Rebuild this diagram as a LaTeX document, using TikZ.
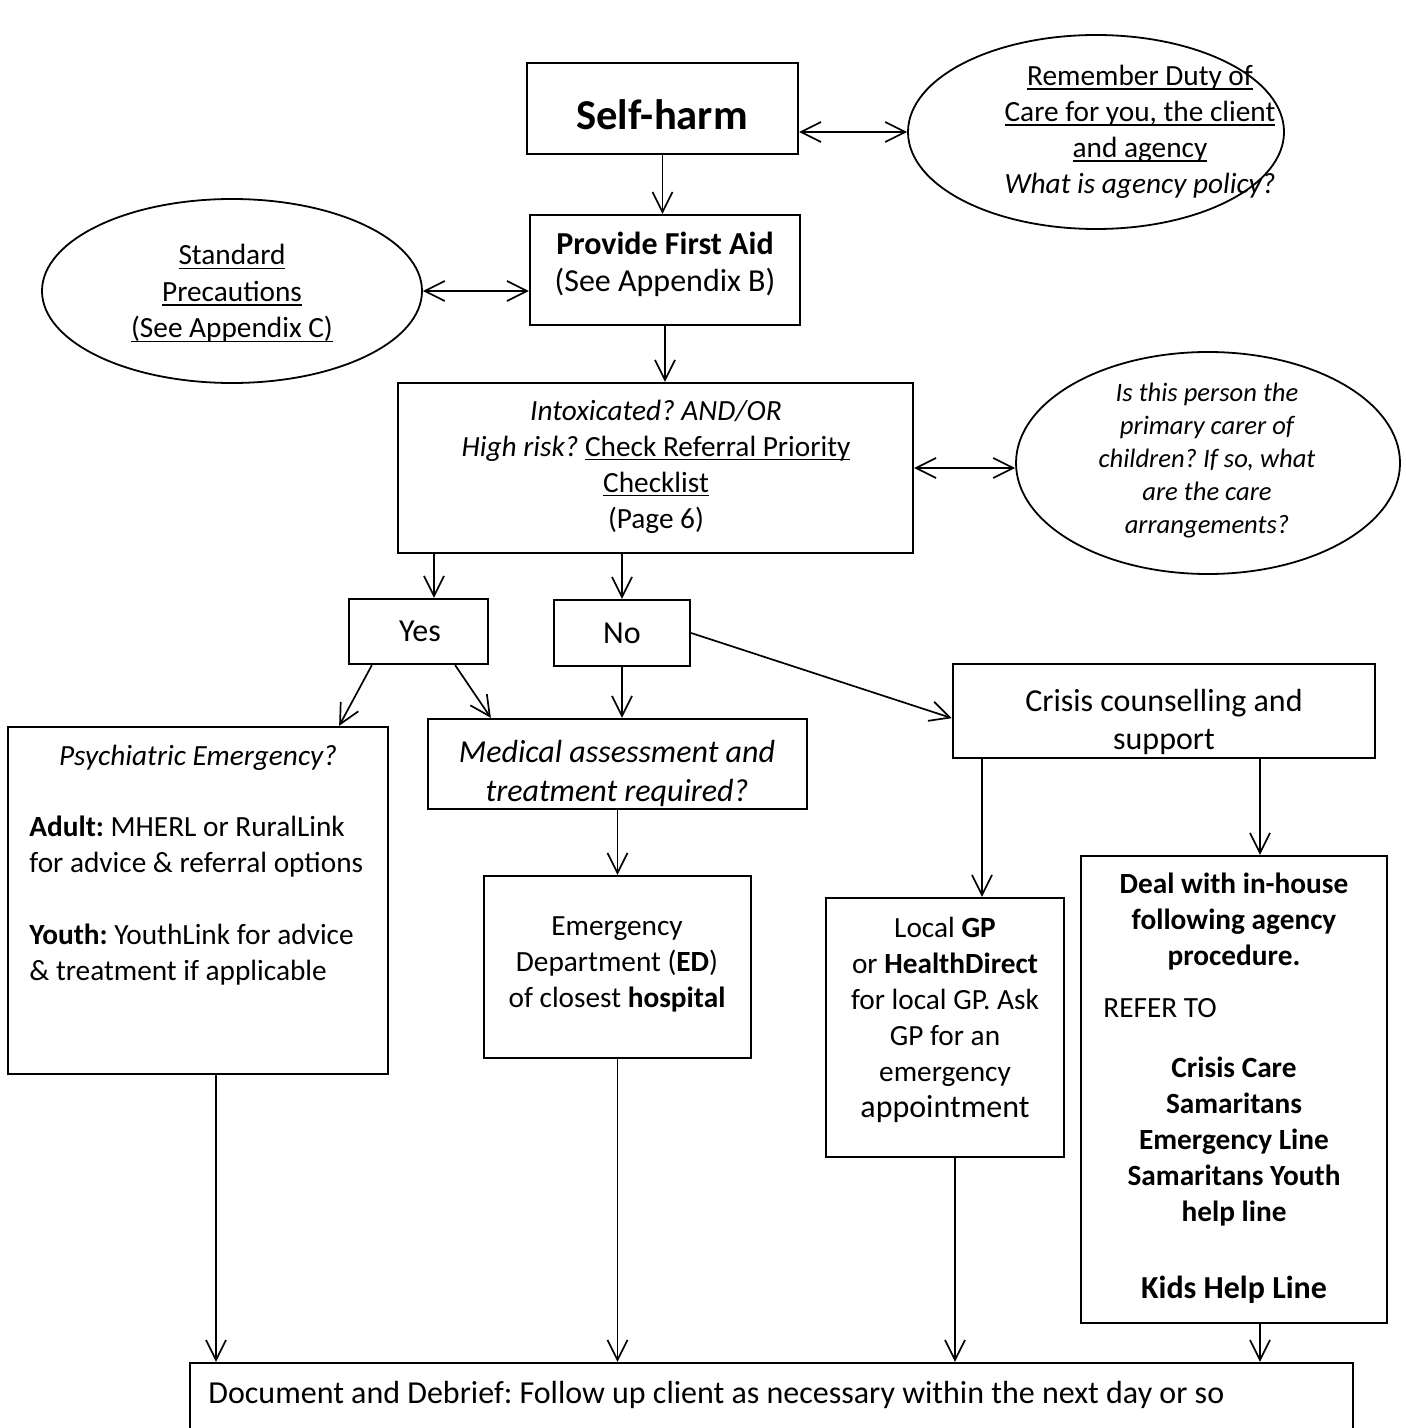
\documentclass[tikz,border=0pt]{standalone}
\usepackage{fontspec}
\setmainfont{Carlito}
\usetikzlibrary{arrows.meta,shapes.geometric,fit,calc}
% underline drawn at a fixed depth below the baseline
\newcommand\ulinetext[1]{\setbox0=\hbox{#1}\rlap{\rule[-2.2pt]{\wd0}{0.9pt}}\box0}
\begin{document}
\frenchspacing
\begin{tikzpicture}[x=0.5pt,y=-0.5pt,
  box/.style={draw, line width=1.15pt, inner sep=0pt},
  oval/.style={draw, ellipse, line width=0.9pt, inner sep=0pt},
  arr/.style={line width=0.85pt, -{Straight Barb[length=10pt,width=10pt]}},
  darr/.style={line width=0.85pt, {Straight Barb[length=10pt,width=10pt]}-{Straight Barb[length=10pt,width=10pt]}},
  % multi-line texts are placed by the baseline of their last line
  txt/.style={anchor=base, inner sep=0pt, align=center},
  ltxt/.style={anchor=base west, inner sep=0pt, align=left}]

\useasboundingbox (0,0) rectangle (1406,1428);
\fill[white] (0,0) rectangle (1406,1428);
\clip (0,0) rectangle (1406,1428);

% ---- boxes
\node[box, fit={(527,63)(798,154)}]    (selfharm) {};
\node[box, fit={(530,215)(800,325)}]   (firstaid) {};
\node[box, fit={(398,383)(913,553)}]   (intox) {};
\node[box, fit={(349,599)(488,664)}]   (yes) {};
\node[box, fit={(554,600)(690,666)}]   (no) {};
\node[box, fit={(953,664)(1375,758)}]  (crisis) {};
\node[box, fit={(428,719)(807,809)}]   (medical) {};
\node[box, fit={(8,727)(388,1074)}]    (psych) {};
\node[box, fit={(484,876)(751,1058)}]  (ed) {};
\node[box, fit={(826,898)(1064,1157)}] (gp) {};
\node[box, fit={(1081,856)(1387,1323)}] (deal) {};
\node[box, fit={(190,1363)(1353,1470)}] (debrief) {};

% ---- ellipses
\node[oval, minimum width=188pt, minimum height=97pt] (duty) at (1096,132) {};
\node[oval, minimum width=190pt, minimum height=92pt] (precaution) at (232,291) {};
\node[oval, minimum width=192pt, minimum height=111pt] (carer) at (1208,463) {};

% ---- texts
\node[txt, font=\fontsize{21.3}{26}\selectfont\bfseries] (tselfharm) at (662,130) {Self-harm};
\node[txt, font=\fontsize{14.65}{18.1}\selectfont] (tduty) at (1140,194)
  {\ulinetext{Remember Duty of}\\ \ulinetext{Care for you, the client}\\ \ulinetext{and agency}\\ \textit{What is agency policy?}};
\node[txt, font=\fontsize{14.65}{18.25}\selectfont] (tprecaution) at (232,338)
  {\ulinetext{Standard}\\ \ulinetext{Precautions}\\ \ulinetext{(See Appendix C)}};
\node[txt, font=\fontsize{16}{18.5}\selectfont] (tfirstaid) at (665,292)
  {\textbf{Provide First Aid}\\(See Appendix B)};
\node[txt, font=\fontsize{14.65}{18}\selectfont] (tintox) at (656,528)
  {\textit{Intoxicated? AND/OR}\\ \textit{High risk?} \ulinetext{Check Referral Priority}\\ \ulinetext{Checklist}\\ (Page 6)};
\node[txt, font=\fontsize{13.3}{16.5}\selectfont\itshape] (tcarer) at (1207,533)
  {Is this person the\\primary carer of\\children? If so, what\\are the care\\arrangements?};
\node[txt, font=\fontsize{16}{19}\selectfont] (tyes) at (420,641) {Yes};
\node[txt, font=\fontsize{16}{19}\selectfont] (tno) at (622,643) {No};
% these two texts run past the lower edge of their boxes and are cut there
\begin{scope}
  \clip ($(crisis.south west)+(0,-1)$) rectangle (crisis.north east);
  \node[txt, font=\fontsize{16}{19}\selectfont] (tcrisis) at (1164,749) {Crisis counselling and\\support};
\end{scope}
\begin{scope}
  \clip ($(medical.south west)+(0,-1)$) rectangle (medical.north east);
  \node[txt, font=\fontsize{16}{19.25}\selectfont\itshape] (tmedical) at (617,801)
    {Medical assessment and\\treatment required?};
\end{scope}
\node[txt, font=\fontsize{14.65}{18}\selectfont\itshape] (tpsychtitle) at (198,765) {Psychiatric Emergency?};
\node[ltxt, font=\fontsize{14.65}{18}\selectfont] (tpsych) at (29,980)
  {\textbf{Adult:} MHERL or RuralLink\\for advice \& referral options\\[18pt]
   \textbf{Youth:} YouthLink for advice\\\& treatment if applicable};
\node[txt, font=\fontsize{14.65}{18}\selectfont] (ted) at (617,1007)
  {Emergency\\Department (\textbf{ED})\\of closest \textbf{hospital}};
\node[txt, font=\fontsize{14.65}{18}\selectfont] (tgp) at (945,1117)
  {Local \textbf{GP}\\or \textbf{HealthDirect}\\for local GP. Ask\\GP for an\\emergency\\{\fontsize{16}{18}\selectfont appointment}};
\node[txt, font=\fontsize{14.65}{18}\selectfont\bfseries] (tdealhead) at (1234,965)
  {Deal with in-house\\following agency\\procedure.};
\node[ltxt, font=\fontsize{14.65}{18}\selectfont] (trefer) at (1103,1017) {REFER TO};
\node[txt, font=\fontsize{14.65}{18}\selectfont\bfseries] (tdeallist) at (1234,1221)
  {Crisis Care\\Samaritans\\Emergency Line\\Samaritans Youth\\help line};
\node[txt, font=\fontsize{16}{19}\selectfont\bfseries] (tkids) at (1234,1298) {Kids Help Line};
\node[ltxt, font=\fontsize{16}{19}\selectfont] (tdebrief) at (208,1403)
  {Document and Debrief: Follow up client as necessary within the next day or so};

% ---- lanes for vertical connectors
\coordinate (laneyes) at (434,0);
\coordinate (lanegp) at (982,0);
\coordinate (lanedeal) at (1260,0);
\coordinate (lanepsych) at (216,0);
\coordinate (lanegpout) at (955,0);

% ---- connectors
\draw[darr] (selfharm.east |- duty.west) -- (duty.west);
\draw[arr] (selfharm.south) -- (selfharm.south |- firstaid.north);
\draw[darr] (precaution.east) -- (precaution.east -| firstaid.west);
\draw[arr] (firstaid.south) -- (firstaid.south |- intox.north);
\draw[darr] (intox.east) -- (intox.east -| carer.west);
\draw[arr] (intox.south -| laneyes) -- (yes.north -| laneyes);
\draw[arr] (intox.south -| no.north) -- (no.north);
\draw[arr] ($(yes.south west)+(24,0)$) -- ($(psych.north east)+(-50,0)$);
\draw[arr] ($(yes.south east)+(-34,0)$) -- ($(medical.north west)+(64,0)$);
\draw[arr] (no.south) -- (no.south |- medical.north);
\draw[arr] (no.east) -- ($(crisis.south west)+(0,-41)$);
\draw[arr] (medical.south) -- (ed.north);
\draw[arr] (crisis.south -| lanegp) -- (gp.north -| lanegp);
\draw[arr] (crisis.south -| lanedeal) -- (deal.north -| lanedeal);
\draw[arr] (psych.south -| lanepsych) -- (debrief.north -| lanepsych);
\draw[arr] (ed.south) -- (ed.south |- debrief.north);
\draw[arr] (gp.south -| lanegpout) -- (debrief.north -| lanegpout);
\draw[arr] (deal.south -| lanedeal) -- (debrief.north -| lanedeal);
\end{tikzpicture}
\end{document}
